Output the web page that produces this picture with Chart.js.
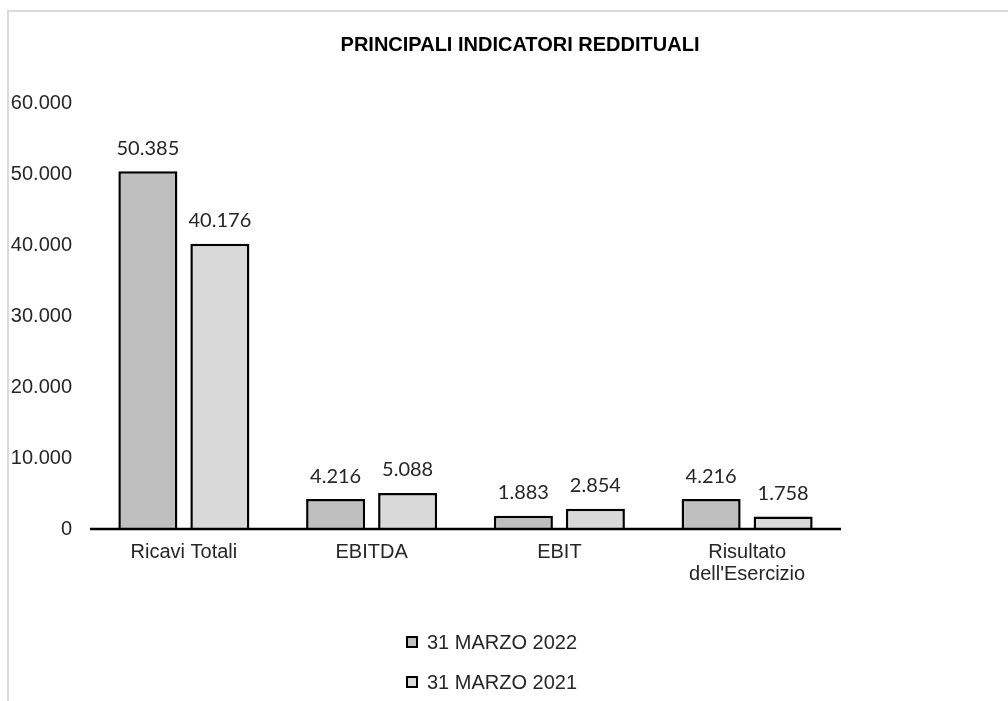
<!DOCTYPE html>
<html>
<head>
<meta charset="utf-8">
<script src="https://cdn.jsdelivr.net/npm/chart.js@4"></script>
<style>
  html, body { margin: 0; padding: 0; background: #fff; }
  #frame {
    position: absolute; left: 7px; top: 10px; width: 1100px; height: 800px;
    border-top: 2px solid #dadada; border-left: 2px solid #dadada;
  }
  #wrap { position: absolute; left: 0; top: 0; width: 1008px; height: 701px; }
</style>
</head>
<body>
<div id="frame"></div>
<div id="wrap"><canvas id="chart"></canvas></div>
<script>
const categories = ['Ricavi Totali', 'EBITDA', 'EBIT', ['Risultato', "dell'Esercizio"]];
const series2022 = [50385, 4216, 1883, 4216];
const series2021 = [40176, 5088, 2854, 1758];
const seriesNames = ['31 MARZO 2022', '31 MARZO 2021'];
const yTicks = [0, 10000, 20000, 30000, 40000, 50000, 60000];

function fmtNum(v) {
  return String(v).replace(/\B(?=(\d{3})+(?!\d))/g, '.');
}

const overlay = {
  id: 'overlay',
  afterDatasetsDraw(chart) {
    const ctx = chart.ctx;
    const area = chart.chartArea;
    ctx.save();
    // linea dello zero
    ctx.strokeStyle = '#000';
    ctx.lineWidth = 2.5;
    const y0 = chart.scales.y.getPixelForValue(0);
    ctx.beginPath();
    ctx.moveTo(area.left, y0);
    ctx.lineTo(area.right, y0);
    ctx.stroke();

    // etichette dei valori
    ctx.fillStyle = '#262626';
    ctx.font = '20px Lato';
    ctx.textAlign = 'center';
    ctx.textBaseline = 'middle';
    chart.data.datasets.forEach((ds, i) => {
      chart.getDatasetMeta(i).data.forEach((bar, j) => {
        ctx.fillText(fmtNum(ds.data[j]), bar.x, bar.y - 23);
      });
    });

    // titolo
    ctx.fillStyle = '#000';
    ctx.font = 'bold 20px "Liberation Sans", Arial';
    ctx.fillText('PRINCIPALI INDICATORI REDDITUALI', 520, 45);

    // legenda
    ctx.font = '20px "Liberation Sans", Arial';
    ctx.textAlign = 'left';
    chart.data.datasets.forEach((ds, i) => {
      const cy = area.bottom + 113 + i * 40;
      ctx.fillStyle = ds.backgroundColor;
      ctx.fillRect(406, cy - 6, 12, 12);
      ctx.lineWidth = 2;
      ctx.strokeStyle = '#000';
      ctx.strokeRect(407, cy - 5, 10, 10);
      ctx.fillStyle = '#262626';
      ctx.fillText(ds.label, 427, cy + 1);
    });
    ctx.restore();
  }
};

new Chart(document.getElementById('chart'), {
  type: 'bar',
  data: {
    labels: categories,
    datasets: [
      {
        label: seriesNames[0],
        data: series2022,
        backgroundColor: '#bfbfbf',
        borderColor: '#000',
        borderWidth: 2.5,
        categoryPercentage: 0.767,
        barPercentage: 0.82,
      },
      {
        label: seriesNames[1],
        data: series2021,
        backgroundColor: '#d9d9d9',
        borderColor: '#000',
        borderWidth: 2.5,
        categoryPercentage: 0.767,
        barPercentage: 0.82,
      },
    ],
  },
  options: {
    responsive: true,
    maintainAspectRatio: false,
    animation: false,
    layout: { padding: { top: 103, right: 167, left: 0, bottom: 0 } },
    plugins: {
      legend: { display: false },
      title: { display: false },
      tooltip: { enabled: false },
    },
    scales: {
      x: {
        grid: { display: false, drawTicks: false },
        border: { display: false },
        ticks: {
          color: '#262626',
          font: { family: '"Liberation Sans", Arial', size: 20, lineHeight: 1.1 },
          padding: 12,
          maxRotation: 0,
          autoSkip: false,
        },
        afterFit(scale) { scale.height = 172; },
      },
      y: {
        min: 0,
        max: 60000,
        afterBuildTicks(scale) { scale.ticks = yTicks.map(v => ({ value: v })); },
        grid: { display: false, drawTicks: false },
        border: { display: false },
        ticks: {
          color: '#262626',
          font: { family: '"Liberation Sans", Arial', size: 20 },
          padding: 18,
          callback: (v) => fmtNum(v),
        },
        afterFit(scale) { scale.width = 90; },
      },
    },
  },
  plugins: [overlay],
});
</script>
</body>
</html>
